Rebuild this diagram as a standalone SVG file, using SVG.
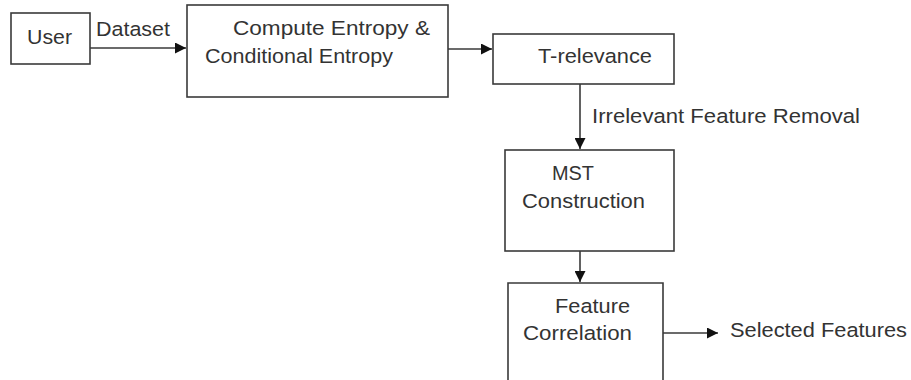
<svg xmlns="http://www.w3.org/2000/svg" width="911" height="380" viewBox="0 0 911 380">
<defs>
<style>
.box{fill:#fff;stroke:#3a3a3a;stroke-width:1.6}
.t{font-family:"Liberation Sans",Arial,sans-serif;font-size:20.5px;fill:#333}
.c{stroke:#3a3a3a;stroke-width:1.6;fill:none}
</style>
<marker id="ah" viewBox="0 0 10 10" refX="10" refY="5" markerWidth="11" markerHeight="11" markerUnits="userSpaceOnUse" orient="auto">
<path d="M0,0 L10,5 L0,10 z" fill="#111"/>
</marker>
</defs>
<rect width="911" height="380" fill="#fff"/>
<g id="user">
<rect class="box" x="11" y="13" width="79" height="51"/>
<text class="t" x="27" y="44" textLength="45" lengthAdjust="spacingAndGlyphs">User</text>
</g>
<g id="compute">
<rect class="box" x="187" y="5" width="261" height="92"/>
<text class="t" x="233" y="35" textLength="197" lengthAdjust="spacingAndGlyphs">Compute Entropy &amp;</text>
<text class="t" x="205" y="63" textLength="188" lengthAdjust="spacingAndGlyphs">Conditional Entropy</text>
</g>
<g id="trelevance">
<rect class="box" x="493" y="34" width="181" height="50"/>
<text class="t" x="538" y="63" textLength="114" lengthAdjust="spacingAndGlyphs">T-relevance</text>
</g>
<g id="mst">
<rect class="box" x="505" y="150" width="169" height="101"/>
<text class="t" x="552" y="180" textLength="42" lengthAdjust="spacingAndGlyphs">MST</text>
<text class="t" x="522" y="208" textLength="123" lengthAdjust="spacingAndGlyphs">Construction</text>
</g>
<g id="feature">
<path class="box" d="M508,382 L508,283 L663,283 L663,382"/>
<text class="t" x="555" y="313" textLength="75" lengthAdjust="spacingAndGlyphs">Feature</text>
<text class="t" x="523" y="340" textLength="109" lengthAdjust="spacingAndGlyphs">Correlation</text>
</g>
<g id="connectors">
<line class="c" x1="90" y1="48" x2="186" y2="48" marker-end="url(#ah)"/>
<text class="t" x="96" y="36" textLength="74" lengthAdjust="spacingAndGlyphs">Dataset</text>
<line class="c" x1="448" y1="49" x2="492" y2="49" marker-end="url(#ah)"/>
<line class="c" x1="580" y1="84" x2="580" y2="149" marker-end="url(#ah)"/>
<text class="t" x="592" y="123" textLength="268" lengthAdjust="spacingAndGlyphs">Irrelevant Feature Removal</text>
<line class="c" x1="580" y1="251" x2="580" y2="282" marker-end="url(#ah)"/>
<line class="c" x1="663" y1="333" x2="718" y2="333" marker-end="url(#ah)"/>
<text class="t" x="730" y="337" textLength="177" lengthAdjust="spacingAndGlyphs">Selected Features</text>
</g>
</svg>
